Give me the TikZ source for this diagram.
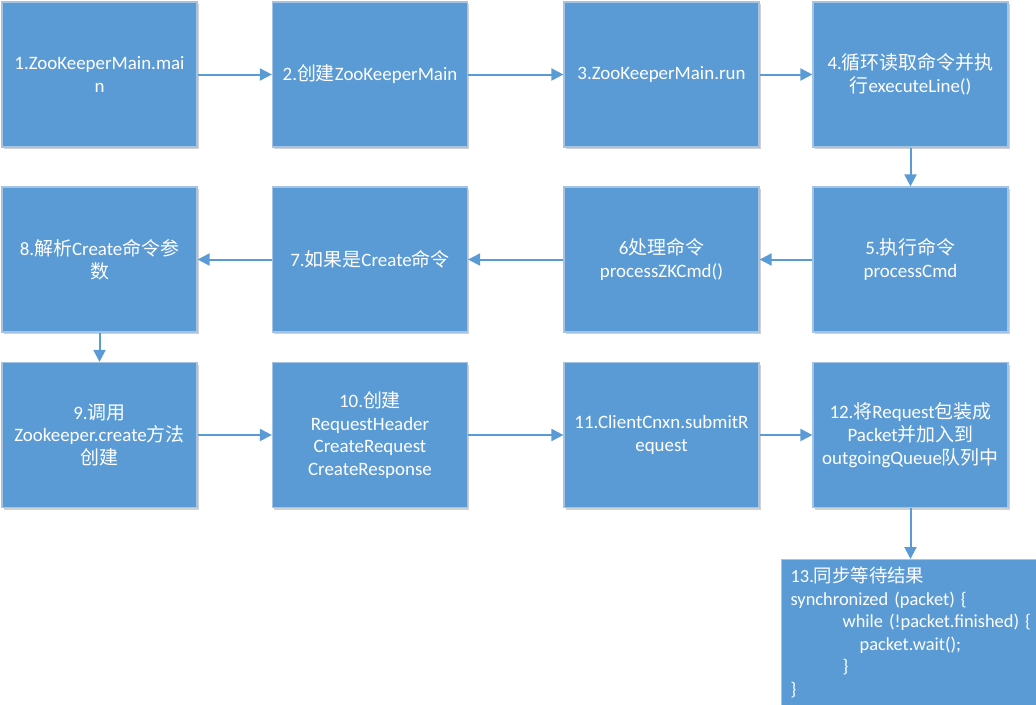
\documentclass[tikz,border=0pt]{standalone}
\usepackage{fontspec}
\setmainfont{Carlito}
\newfontfamily\cjk{Noto Sans CJK SC}
\newcommand{\C}[1]{{\cjk #1}}
\usetikzlibrary{shadows,arrows.meta}
\definecolor{boxblue}{HTML}{5B9BD5}
\definecolor{boxedge}{HTML}{A7C3E3}
\tikzset{
  stepbox/.style={draw=boxedge, line width=0.9pt, fill=boxblue, text=white,
    minimum width=146.25pt, minimum height=108.75pt, align=center,
    font=\fontsize{14.2}{17.1}\selectfont,
    drop shadow={shadow xshift=1.2pt, shadow yshift=-1.5pt, opacity=0.18, fill=black}},
  arr/.style={draw=boxblue, line width=1.5pt, -{Triangle[length=9pt,width=9pt]}}
}
\begin{document}
\begin{tikzpicture}[x=0.75pt,y=-0.75pt]
\useasboundingbox (0,0) rectangle (1036,704);
% row 1
\node[stepbox] (b1) at (99.5,74.5) {1.ZooKeeperMain.mai\\n};
\node[stepbox] (b2) at (370,74.5) {2.\C{创建}ZooKeeperMain};
\node[stepbox] (b3) at (661.5,74.5) {3.ZooKeeperMain.run};
\node[stepbox] (b4) at (910.5,74.5) {4.\C{循环读取命令并执}\\\C{行}executeLine()};
% row 2
\node[stepbox] (b5) at (910.5,259.5) {5.\C{执行命令}\\processCmd};
\node[stepbox] (b6) at (661.5,259.5) {6\C{处理命令}\\processZKCmd()};
\node[stepbox] (b7) at (370,259.5) {7.\C{如果是}Create\C{命令}};
\node[stepbox] (b8) at (99.5,259.5) {8.\C{解析}Create\C{命令参}\\\C{数}};
% row 3
\node[stepbox] (b9) at (99.5,435) {9.\C{调用}\\Zookeeper.create\C{方法}\\\C{创建}};
\node[stepbox] (b10) at (370,435) {10.\C{创建}\\RequestHeader\\CreateRequest\\CreateResponse};
\node[stepbox] (b11) at (661.5,435) {11.ClientCnxn.submitR\\equest};
\node[stepbox] (b12) at (910.5,435) {12.\C{将}Request\C{包装成}\\Packet\C{并加入到}\\outgoingQueue\C{队列中}};
% box 13 (runs past the right edge of the picture, as in the reference)
\node[stepbox, anchor=north west, minimum height=109.5pt,
  inner xsep=6.75pt, text width=215pt, align=left,
  font=\fontsize{13.8}{16.9}\selectfont] (b13) at (781,559)
  {13.\C{同步等待结果}\\
   synchronized (packet) \{\\
   \hspace*{39pt}while (!packet.finished) \{\\
   \hspace*{51.75pt}packet.wait();\\
   \hspace*{39pt}\}\\
   \}};
% connectors
\draw[arr] (b1) -- (b2);
\draw[arr] (b2) -- (b3);
\draw[arr] (b3) -- (b4);
\draw[arr] (b4) -- (b5);
\draw[arr] (b5) -- (b6);
\draw[arr] (b6) -- (b7);
\draw[arr] (b7) -- (b8);
\draw[arr] (b8) -- (b9);
\draw[arr] (b9) -- (b10);
\draw[arr] (b10) -- (b11);
\draw[arr] (b11) -- (b12);
\draw[arr] (b12.south) -- (b12.south |- b13.north);
\end{tikzpicture}
\end{document}
